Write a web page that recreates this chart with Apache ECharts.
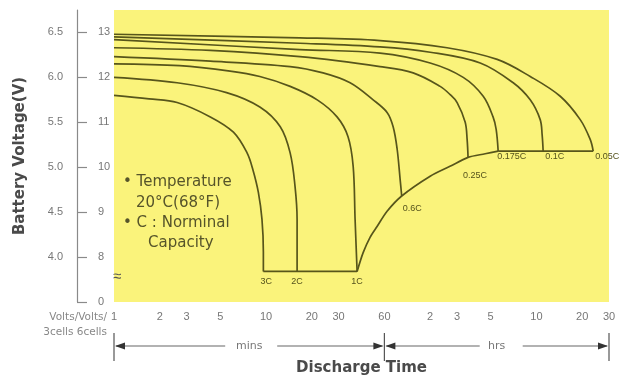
<!DOCTYPE html>
<html>
<head>
<meta charset="utf-8">
<script src="https://cdn.jsdelivr.net/npm/echarts@6/dist/echarts.min.js"></script>
<style>
  html, body { margin: 0; background: #fff; }
  #chart { width: 621px; height: 381px; }
</style>
</head>
<body>
<div id="chart"></div>
<script>
// discharge time in minutes (log axis) / terminal voltage on the 6V scale
const rate3C = [[1, 5.80], [1.7, 5.76], [2.6, 5.72], [4.3, 5.56], [6.1, 5.39], [7.5, 5.16], [8.2, 4.97], [8.9, 4.72], [9.4, 4.42], [9.6, 4.06], [9.6, 3.84]]
const rate2C = [[1, 6.00], [2.6, 5.94], [5.5, 5.83], [9.1, 5.67], [12.4, 5.45], [14.4, 5.16], [15.5, 4.79], [16, 4.42], [16, 3.84]]
const rate1C = [[1, 6.15], [2.7, 6.13], [5.8, 6.07], [9.1, 6.01], [14.4, 5.90], [21.7, 5.75], [29.3, 5.56], [34.6, 5.34], [37.4, 5.01], [38.5, 4.42], [39.7, 3.84]]
const rate06C = [[1, 6.23], [4.3, 6.18], [14.4, 6.12], [23.7, 6.05], [35.7, 5.94], [50.6, 5.75], [62.5, 5.61], [68.5, 5.45], [72.8, 5.20], [76.2, 4.86], [78, 4.68]]
const rate025C = [[1, 6.33], [4.3, 6.30], [16.7, 6.23], [56.2, 6.12], [92.7, 6.05], [139.6, 5.90], [162, 5.81], [180.5, 5.72], [204, 5.50], [210, 5.31], [213, 5.11]]
const rate0175C = [[1, 6.42], [16.7, 6.31], [56.2, 6.27], [120, 6.16], [198, 6.00], [268, 5.79], [311, 5.56], [326, 5.42], [336, 5.18]]
const rate01C = [[1, 6.45], [16.7, 6.38], [56.2, 6.34], [120, 6.28], [256, 6.16], [422, 5.94], [546, 5.75], [635, 5.53], [654, 5.36], [664, 5.18]]
const rate005C = [[1, 6.48], [16.7, 6.44], [56.2, 6.41], [155, 6.33], [331, 6.20], [546, 6.01], [860, 5.79], [1164, 5.53], [1354, 5.31], [1417, 5.18]]
// end-of-discharge voltage envelope: flat floor, rising part, flat top
const cutoffFloor = [[9.6, 3.84], [39.7, 3.84]]
const cutoffRise = [[39.7, 3.84], [43.5, 4.05], [48.3, 4.22], [53.7, 4.34], [62.5, 4.51], [78, 4.68], [120, 4.90], [162, 5.01], [213, 5.11], [276, 5.15], [336, 5.18]]
const cutoffTop = [[336, 5.18], [1417, 5.18]]

const curveNames = ['3C', '2C', '1C', '0.6C', '0.25C', '0.175C', '0.1C', '0.05C']
const curveData = [rate3C, rate2C, rate1C, rate06C, rate025C, rate0175C, rate01C, rate005C]

const xTickMinutes = [1, 2, 3, 5, 10, 20, 30, 60, 120, 180, 300, 600, 1200, 1800]
const xTickLabels = ['1', '2', '3', '5', '10', '20', '30', '60', '2', '3', '5', '10', '20', '30']
const volt6Ticks = [4.0, 4.5, 5.0, 5.5, 6.0, 6.5]
const volt12Ticks = [7, 8, 9, 10, 11, 12, 13]
const volt12Labels = ['0', '8', '9', '10', '11', '12', '13']

const lineColor = '#57551b'
const axisGray = '#8a8a8a'
const labelGray = '#777'
const font = 'Liberation Sans, Arial, sans-serif'
const wideFont = 'DejaVu Sans, sans-serif'

// where each rate label sits relative to the end of its curve
const endLabel = {
  '3C': { position: 'bottom', distance: 6, offset: [3, 0] },
  '2C': { position: 'bottom', distance: 6 },
  '1C': { position: 'bottom', distance: 6 },
  '0.6C': { position: 'bottom', distance: 8, align: 'left', offset: [1, 0] },
  '0.25C': { position: 'bottom', distance: 14, align: 'left', offset: [-5, 0] },
  '0.175C': { position: 'bottom', distance: 1, align: 'left', offset: [-1, 0] },
  '0.1C': { position: 'bottom', distance: 1, align: 'left', offset: [2, 0] },
  '0.05C': { position: 'bottom', distance: 1, align: 'left', offset: [2, 0] }
}

function tickLabel(v) {
  let best = 0
  xTickMinutes.forEach((m, i) => {
    if (Math.abs(Math.log(m / v)) < Math.abs(Math.log(xTickMinutes[best] / v))) best = i
  })
  return xTickLabels[best]
}

const chart = echarts.init(document.getElementById('chart'), null, { renderer: 'canvas' })

const series = curveData.map((data, i) => ({
  name: curveNames[i],
  type: 'line',
  data: data.map((p, j) => j === data.length - 1 ? {
    value: p,
    label: Object.assign({
      show: true,
      formatter: curveNames[i],
      color: '#55531c',
      fontSize: 9,
      fontFamily: font
    }, endLabel[curveNames[i]])
  } : p),
  smooth: 0.35,
  showSymbol: true,
  symbol: 'circle',
  symbolSize: 0,
  lineStyle: { color: lineColor, width: 1.7 }
}))

;[cutoffFloor, cutoffRise, cutoffTop].forEach((data, i) => {
  series.push({
    name: 'cutoff' + i,
    type: 'line',
    data: data,
    smooth: 0.3,
    symbol: 'none',
    lineStyle: { color: lineColor, width: 1.7 }
  })
})

chart.setOption({
  animation: false,
  grid: {
    left: 114, right: 12, top: 10, bottom: 78,
    show: true, backgroundColor: '#faf37b', borderWidth: 0
  },
  xAxis: {
    type: 'log',
    logBase: 10,
    min: 1,
    max: 1800,
    axisLine: { show: false },
    axisTick: { show: false },
    splitLine: { show: false },
    minorTick: { show: false },
    axisLabel: {
      customValues: xTickMinutes,
      formatter: tickLabel,
      showMinLabel: true,
      showMaxLabel: true,
      color: labelGray,
      fontSize: 11,
      fontFamily: font,
      margin: 9
    },
    name: 'Discharge Time',
    nameLocation: 'middle',
    nameGap: 59,
    nameTextStyle: { color: '#4a4a4a', fontSize: 15, fontWeight: 'bold', fontFamily: wideFont }
  },
  yAxis: [
    {
      type: 'value',
      min: 3.5,
      max: 6.75,
      position: 'left',
      offset: 37,
      axisLine: { show: true, lineStyle: { color: axisGray, width: 1.2 } },
      axisTick: { show: false },
      splitLine: { show: false },
      axisLabel: {
        customValues: volt6Ticks,
        formatter: v => v.toFixed(1),
        color: labelGray,
        fontSize: 11,
        fontFamily: font,
        margin: 14
      },
      name: 'Battery Voltage(V)',
      nameLocation: 'middle',
      nameRotate: 90,
      nameGap: 49,
      nameTextStyle: { color: '#4a4a4a', fontSize: 15, fontWeight: 'bold', fontFamily: wideFont }
    },
    {
      type: 'value',
      min: 7,
      max: 13.5,
      position: 'left',
      offset: 37,
      axisLine: { show: false },
      axisTick: {
        show: true,
        inside: true,
        length: 10,
        customValues: volt12Ticks,
        lineStyle: { color: axisGray, width: 1.2 }
      },
      splitLine: { show: false },
      axisLabel: {
        inside: true,
        customValues: volt12Ticks,
        formatter: v => volt12Labels[volt12Ticks.indexOf(Math.round(v))],
        color: labelGray,
        fontSize: 11,
        fontFamily: font,
        margin: 21
      }
    }
  ],
  series: series
})

// annotation text, arrows under the time axis
const toX = t => chart.convertToPixel({ xAxisIndex: 0 }, t)
const xL = toX(1), xM = toX(60), xR = toX(1800)
const rowY = 346
const arrowColor = '#666'

function span(a, b, text, gapL, gapR) {
  const mid = (a + b) / 2
  return [
    { type: 'line', shape: { x1: a + 2, y1: rowY, x2: mid - gapL, y2: rowY }, style: { stroke: arrowColor, lineWidth: 1.2 } },
    { type: 'line', shape: { x1: mid + gapR, y1: rowY, x2: b - 2, y2: rowY }, style: { stroke: arrowColor, lineWidth: 1.2 } },
    { type: 'polygon', shape: { points: [[a + 1, rowY], [a + 11, rowY - 3.5], [a + 11, rowY + 3.5]] }, style: { fill: '#333' } },
    { type: 'polygon', shape: { points: [[b - 1, rowY], [b - 11, rowY - 3.5], [b - 11, rowY + 3.5]] }, style: { fill: '#333' } },
    { type: 'text', x: mid, y: rowY, style: { text: text, fill: labelGray, fontSize: 11, fontFamily: wideFont, align: 'center', verticalAlign: 'middle' } }
  ]
}

const bars = [xL, xM, xR].map(x => ({
  type: 'line', shape: { x1: x, y1: 333, x2: x, y2: 361 }, style: { stroke: '#555', lineWidth: 1.2 }
}))

const note = (x, y, text) => ({
  type: 'text', x: x, y: y,
  style: { text: text, fill: '#56542a', fontSize: 15, fontFamily: wideFont, verticalAlign: 'middle' }
})

chart.setOption({
  graphic: [
    ...bars,
    ...span(xL, xM, 'mins', 24, 28),
    ...span(xM, xR, 'hrs', 17, 26),
    note(123, 182, '• Temperature'),
    note(136, 203, '20°C(68°F)'),
    note(123, 223, '• C : Norminal'),
    note(148, 243, 'Capacity'),
    { type: 'text', x: 107, y: 317, style: { text: 'Volts/Volts/', fill: '#888', fontSize: 10.5, fontFamily: wideFont, align: 'right', verticalAlign: 'middle' } },
    { type: 'text', x: 107, y: 332, style: { text: '3cells 6cells', fill: '#888', fontSize: 10.5, fontFamily: wideFont, align: 'right', verticalAlign: 'middle' } },
    { type: 'text', x: 117, y: 277, style: { text: '≈', fill: '#555', fontSize: 15, fontFamily: font, align: 'center', verticalAlign: 'middle' } }
  ]
})
</script>
</body>
</html>
